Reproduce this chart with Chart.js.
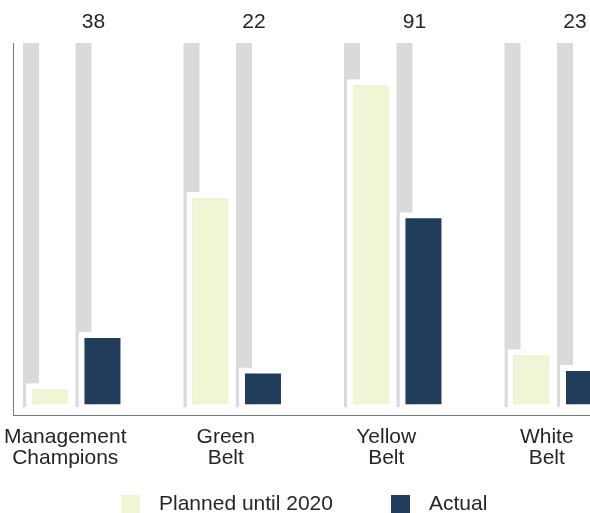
<!DOCTYPE html>
<html>
<head>
<meta charset="utf-8">
<script src="https://cdn.jsdelivr.net/npm/chart.js@4.4.1/dist/chart.umd.min.js"></script>
<style>
    html, body { margin: 0; padding: 0; background: #fff; }
    #wrap { position: relative; width: 590px; height: 513px; overflow: hidden; }
    #legend { position: absolute; left: 121px; top: 492px; display: flex; align-items: flex-start;
              font: 21px "Liberation Sans", Arial, sans-serif; line-height: 21px; color: #262626; }
    .item { display: flex; align-items: flex-start; margin-right: 58px; white-space: nowrap; }
    .box { width: 19px; height: 19px; margin-top: 3px; margin-right: 19px; }
</style>
</head>
<body>
<div id="wrap">
    <canvas id="myChart"></canvas>
    <div id="legend"></div>
</div>
<script>
const categories = [['Management', 'Champions'], ['Green', 'Belt'], ['Yellow', 'Belt'], ['White', 'Belt']];
const plannedValues = [7.3, 59.4, 90.1, 16.6];
const actualValues = [21.3, 11.6, 53.9, 12.3];
const groupTotals = [38, 22, 91, 23];
const trackMax = 100;

const fontFamily = '"Liberation Sans", Arial, sans-serif';

// grey tracks behind every bar
const tracks = {
    id: 'tracks',
    beforeDatasetsDraw(chart) {
        const { ctx, scales: { y } } = chart;
        const top = y.getPixelForValue(trackMax);
        const bottom = y.getPixelForValue(0) - 3;
        ctx.save();
        ctx.fillStyle = '#d9dadc';
        chart.data.datasets.forEach((ds, i) => {
            chart.getDatasetMeta(i).data.forEach(bar => {
                const left = bar.x - bar.width / 2 - 3;
                ctx.fillRect(left, top, 16, bottom - top);
            });
        });
        ctx.restore();
    }
};

// numbers above each group
const totals = {
    id: 'totals',
    afterDatasetsDraw(chart) {
        const { ctx, chartArea } = chart;
        ctx.save();
        ctx.font = '21px ' + fontFamily;
        ctx.fillStyle = '#262626';
        ctx.textAlign = 'center';
        ctx.textBaseline = 'middle';
        chart.getDatasetMeta(1).data.forEach((bar, i) => {
            ctx.fillText(groupTotals[i], bar.x - 9, chartArea.top - 20.5);
        });
        ctx.restore();
    }
};

let ctx = document.getElementById('myChart').getContext('2d');
let chart = new Chart(ctx, {
    type: 'bar',
    data: {
        datasets: [{
            label: 'Planned until 2020',
            data: plannedValues.map((v, i) => ({ x: i, y: v })),
            backgroundColor: '#f1f5d6',
            borderColor: '#ffffff',
            borderWidth: 6,
            borderSkipped: false
        }, {
            label: 'Actual',
            data: actualValues.map((v, i) => ({ x: i, y: v })),
            backgroundColor: '#223c5b',
            borderColor: '#ffffff',
            borderWidth: 6,
            borderSkipped: false
        }]
    },
    options: {
        responsive: true,
        maintainAspectRatio: false,
        animation: false,
        barPercentage: 0.914,
        categoryPercentage: 0.654,
        layout: {
            padding: { top: 43, left: 13, right: 0, bottom: 33 }
        },
        plugins: {
            legend: { display: false },
            tooltip: { enabled: false }
        },
        scales: {
            x: {
                type: 'linear',
                offset: false,
                min: -0.394,
                max: 3.201,
                grid: { display: false, drawTicks: false },
                border: { display: true, color: '#7b7b7b', width: 1 },
                ticks: {
                    stepSize: 1,
                    includeBounds: false,
                    autoSkip: false,
                    maxRotation: 0,
                    labelOffset: -11,
                    padding: 11,
                    color: '#262626',
                    font: { family: fontFamily, size: 21, lineHeight: 1.02 },
                    callback: value => categories[value]
                },
                afterFit: scale => {
                    scale.paddingLeft = 0;
                    scale.paddingRight = 0;
                }
            },
            y: {
                min: -1.36,
                max: trackMax,
                grid: { display: false, drawTicks: false },
                border: { display: true, color: '#7b7b7b', width: 1 },
                ticks: { display: false }
            }
        }
    },
    plugins: [tracks, totals]
});

// html legend from the datasets
let legend = document.getElementById('legend');
chart.data.datasets.forEach(ds => {
    let item = document.createElement('div');
    item.className = 'item';
    let box = document.createElement('span');
    box.className = 'box';
    box.style.background = ds.backgroundColor;
    let text = document.createElement('span');
    text.textContent = ds.label;
    item.appendChild(box);
    item.appendChild(text);
    legend.appendChild(item);
});
</script>
</body>
</html>
